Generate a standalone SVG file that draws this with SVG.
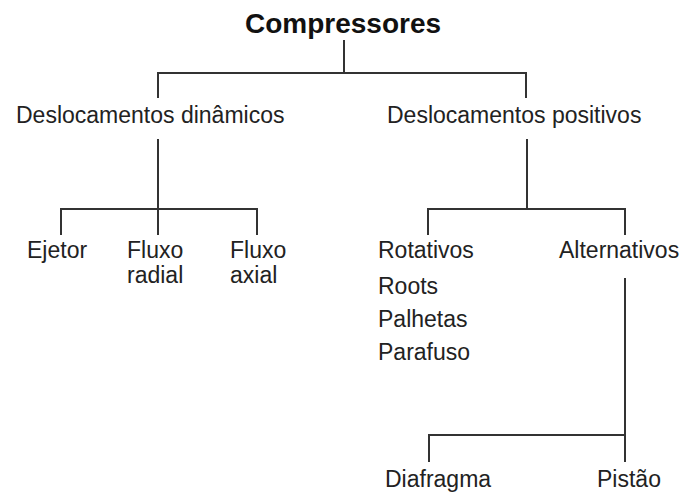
<svg xmlns="http://www.w3.org/2000/svg" width="683" height="492" viewBox="0 0 683 492">
<style>
text{font-family:"Liberation Sans",Arial,sans-serif;font-size:23px;fill:#222}
.title{font-size:28px;font-weight:bold;fill:#111}
.c line{stroke:#333;stroke-width:2;fill:none}
</style>
<rect width="683" height="492" fill="#fff"/>
<g class="c" id="connectors">
<line x1="344" y1="40" x2="344" y2="73"/>
<line x1="157" y1="73" x2="527" y2="73"/>
<line x1="158" y1="72" x2="158" y2="98"/>
<line x1="526" y1="72" x2="526" y2="98"/>
<line x1="158" y1="139" x2="158" y2="235"/>
<line x1="60" y1="209" x2="258" y2="209"/>
<line x1="61" y1="208" x2="61" y2="235"/>
<line x1="257" y1="208" x2="257" y2="235"/>
<line x1="527" y1="139" x2="527" y2="209"/>
<line x1="427" y1="209" x2="626" y2="209"/>
<line x1="428" y1="208" x2="428" y2="235"/>
<line x1="625" y1="208" x2="625" y2="235"/>
<line x1="625" y1="278" x2="625" y2="462"/>
<line x1="428" y1="435" x2="626" y2="435"/>
<line x1="429" y1="434" x2="429" y2="462"/>
</g>
<g id="compressores"><text class="title" x="343" y="33" text-anchor="middle">Compressores</text></g>
<g id="dinamicos"><text x="16" y="123">Deslocamentos dinâmicos</text></g>
<g id="positivos"><text x="387" y="123">Deslocamentos positivos</text></g>
<g id="ejetor"><text x="27" y="258">Ejetor</text></g>
<g id="radial"><text x="127" y="258">Fluxo</text><text x="127" y="283">radial</text></g>
<g id="axial"><text x="230" y="258">Fluxo</text><text x="230" y="283">axial</text></g>
<g id="rotativos"><text x="378" y="258">Rotativos</text><text x="378" y="294">Roots</text><text x="378" y="327">Palhetas</text><text x="378" y="360">Parafuso</text></g>
<g id="alternativos"><text x="559" y="258">Alternativos</text></g>
<g id="diafragma"><text x="385" y="487">Diafragma</text></g>
<g id="pistao"><text x="597" y="487">Pistão</text></g>
</svg>
